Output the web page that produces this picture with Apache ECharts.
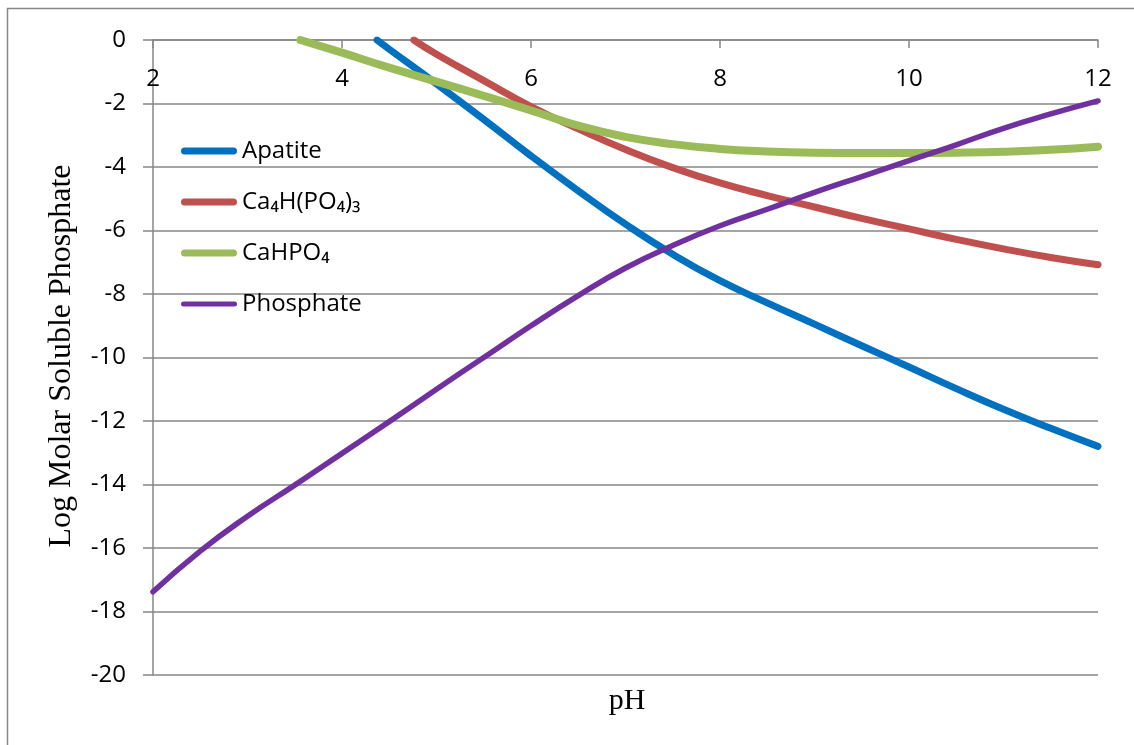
<!DOCTYPE html>
<html>
<head>
<meta charset="utf-8">
<title>Log Molar Soluble Phosphate vs pH</title>
<script src="https://cdn.jsdelivr.net/npm/echarts@6/dist/echarts.min.js"></script>
<style>
  html, body { margin: 0; padding: 0; background: #fff; }
  #chart { width: 1134px; height: 745px; }
</style>
</head>
<body>
<div id="chart"></div>
<script>
// Solubility curves: log molar soluble phosphate against pH
const apatitePH  = [4.37, 4.5, 5, 5.5, 6, 6.5, 7, 7.5, 8, 8.5, 9, 9.5, 10, 10.5, 11, 11.5, 12];
const apatiteLog = [0, -0.29, -1.38, -2.5, -3.65, -4.75, -5.8, -6.75, -7.58, -8.28, -8.95, -9.63, -10.3, -10.98, -11.63, -12.23, -12.8];

const ca4hPH  = [4.76, 5, 5.5, 6, 6.5, 7, 7.5, 8, 8.5, 9, 9.5, 10, 10.5, 11, 11.5, 12];
const ca4hLog = [0, -0.45, -1.28, -2.1, -2.8, -3.45, -4.02, -4.5, -4.9, -5.26, -5.62, -5.95, -6.28, -6.58, -6.85, -7.08];

const cahpo4PH  = [3.56, 4, 4.5, 5, 5.5, 6, 6.5, 7, 7.5, 8, 8.5, 9, 9.5, 10, 10.5, 11, 11.5, 12];
const cahpo4Log = [0, -0.4, -0.87, -1.31, -1.76, -2.22, -2.7, -3.05, -3.28, -3.43, -3.51, -3.55, -3.56, -3.56, -3.55, -3.52, -3.46, -3.36];

const phosphatePH  = [2, 2.5, 3, 3.5, 4, 4.5, 5, 5.5, 6, 6.5, 7, 7.5, 8, 8.5, 9, 9.5, 10, 10.5, 11, 11.5, 12];
const phosphateLog = [-17.38, -16.1, -15.0, -14.02, -13.02, -12.02, -11.0, -10.0, -9.0, -8.05, -7.18, -6.47, -5.85, -5.33, -4.8, -4.3, -3.8, -3.3, -2.78, -2.33, -1.92];

const seriesNames = ['Apatite', 'Ca\u2084H(PO\u2084)\u2083', 'CaHPO\u2084', 'Phosphate'];
const seriesColors = ['#0070C0', '#C0504D', '#9BBB59', '#7030A0'];
const seriesWidths = [7, 7, 8, 5.5];

const xTicks = { min: 2, max: 12, step: 2 };
const yTicks = { min: -20, max: 0, step: 2 };

function pairs(xs, ys) {
  return xs.map((x, i) => [x, ys[i]]);
}

const seriesData = [
  pairs(apatitePH, apatiteLog),
  pairs(ca4hPH, ca4hLog),
  pairs(cahpo4PH, cahpo4Log),
  pairs(phosphatePH, phosphateLog)
];

const gridColor = '#878787';
const labelFont = 'Open Sans, "Noto Sans", sans-serif';
const titleFont = '"Liberation Serif", "DejaVu Serif", serif';

// stadium-shaped legend swatch, like a thick line with round caps
function capsule(h) {
  const w = 56, r = h / 2;
  return 'path://M' + r + ',0 L' + (w - r) + ',0 A' + r + ',' + r + ' 0 0 1 ' + (w - r) + ',' + h +
         ' L' + r + ',' + h + ' A' + r + ',' + r + ' 0 0 1 ' + r + ',0 Z';
}

const chart = echarts.init(document.getElementById('chart'), null, { renderer: 'canvas' });

chart.setOption({
  backgroundColor: '#ffffff',
  animation: false,
  grid: { left: 153, right: 36, top: 40, bottom: 70, containLabel: false },
  legend: {
    orient: 'vertical',
    left: 181,
    top: 139,
    padding: 0,
    itemWidth: 56,
    itemHeight: 7,
    itemGap: 27,
    symbolKeepAspect: true,
    textStyle: { fontFamily: labelFont, fontSize: 24, color: '#000', lineHeight: 24 },
    data: seriesNames.map((n, i) => ({
      name: n,
      icon: capsule(seriesWidths[i] >= 6 ? 7 : 5),
      itemStyle: { color: seriesColors[i] }
    }))
  },
  // pH axis runs along the zero line at the top, labels hanging below it
  xAxis: {
    type: 'value',
    position: 'top',
    min: xTicks.min,
    max: xTicks.max,
    interval: xTicks.step,
    axisLine: { show: true, onZero: false, lineStyle: { color: gridColor, width: 1.5 } },
    axisTick: { show: true, inside: true, length: 8, lineStyle: { color: gridColor, width: 1.5 } },
    axisLabel: { inside: true, margin: 27, fontSize: 24, color: '#000', fontFamily: labelFont, showMinLabel: true, showMaxLabel: true },
    splitLine: { show: false }
  },
  yAxis: {
    type: 'value',
    min: yTicks.min,
    max: yTicks.max,
    interval: yTicks.step,
    axisLine: { show: true, onZero: false, lineStyle: { color: gridColor, width: 1.5 } },
    axisTick: { show: true, length: 10, lineStyle: { color: gridColor, width: 1.5 } },
    axisLabel: { margin: 27, fontSize: 24, color: '#000', fontFamily: labelFont, showMinLabel: true, showMaxLabel: true },
    splitLine: { show: true, lineStyle: { color: gridColor, width: 1.5 } }
  },
  series: seriesNames.map((n, i) => ({
    name: n,
    type: 'line',
    data: seriesData[i],
    smooth: 0.5,
    showSymbol: false,
    symbol: 'none',
    clip: true,
    color: seriesColors[i],
    lineStyle: { color: seriesColors[i], width: seriesWidths[i], cap: 'round', join: 'round' },
    z: 2 + i
  })),
  graphic: [
    {
      type: 'rect',
      silent: true,
      z: -1,
      shape: { x: 7.5, y: 8.5, width: 1200, height: 800 },
      style: { fill: 'none', stroke: gridColor, lineWidth: 1.5 }
    },
    {
      type: 'text',
      silent: true,
      x: 62,
      y: 356,
      rotation: Math.PI / 2,
      style: {
        text: 'Log Molar Soluble Phosphate',
        font: '32px ' + titleFont,
        fill: '#000',
        textAlign: 'center',
        textVerticalAlign: 'middle'
      }
    },
    {
      type: 'text',
      silent: true,
      x: 627,
      y: 701,
      style: {
        text: 'pH',
        font: '30px ' + titleFont,
        fill: '#000',
        textAlign: 'center',
        textVerticalAlign: 'middle'
      }
    }
  ]
});
</script>
</body>
</html>
